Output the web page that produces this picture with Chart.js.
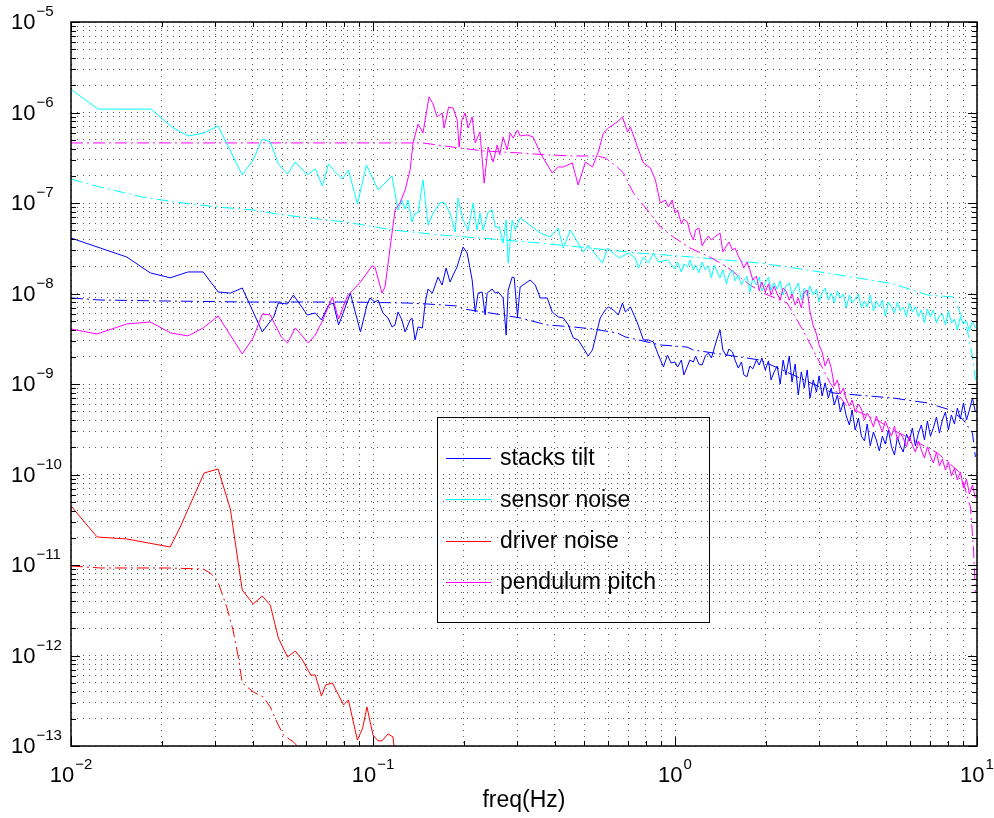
<!DOCTYPE html>
<html lang="en">
<head>
<meta charset="UTF-8">
<title>Tilt noise spectra</title>
<script src="https://cdn.jsdelivr.net/npm/chart.js"></script>
<style>
  body { margin: 0; background: #fff; }
  canvas { display: block; }
</style>
</head>
<body>
<canvas id="noiseChart" width="994" height="818"></canvas>
<script>
// values: frequency in Hz, amplitude per series

// shared frequency grid for the dense part above 1 Hz
const hiFreq = [1.00, 1.02, 1.05, 1.07, 1.10, 1.12, 1.15, 1.17, 1.20, 1.23,
  1.26, 1.29, 1.32, 1.35, 1.38, 1.41, 1.44, 1.48, 1.51, 1.55,
  1.58, 1.62, 1.66, 1.69, 1.73, 1.77, 1.81, 1.86, 1.90, 1.94,
  1.99, 2.04, 2.08, 2.13, 2.18, 2.23, 2.28, 2.33, 2.39, 2.44,
  2.50, 2.56, 2.62, 2.68, 2.74, 2.80, 2.87, 2.94, 3.00, 3.07,
  3.14, 3.22, 3.29, 3.37, 3.45, 3.53, 3.61, 3.69, 3.78, 3.86,
  3.95, 4.05, 4.14, 4.24, 4.33, 4.43, 4.54, 4.64, 4.75, 4.86,
  4.97, 5.09, 5.21, 5.33, 5.45, 5.57, 5.70, 5.84, 5.97, 6.11,
  6.25, 6.40, 6.54, 6.70, 6.85, 7.01, 7.17, 7.34, 7.51, 7.68,
  7.86, 8.04, 8.23, 8.42, 8.61, 8.81, 9.02, 9.23, 9.44, 9.66,
  9.88];

// stacks tilt (blue)
const tiltLowFreq = [0.01, 0.0125, 0.0153, 0.0183, 0.0213, 0.0244, 0.0274, 0.0307, 0.0337, 0.0369,
  0.043, 0.0469, 0.0486, 0.0521, 0.0545, 0.0606, 0.0644, 0.0675, 0.0712, 0.0739,
  0.0769, 0.0799, 0.0841, 0.0909, 0.0955, 0.0977, 0.1015, 0.1039, 0.1079, 0.1121,
  0.1156, 0.1183, 0.121, 0.1247, 0.1277, 0.1327, 0.1346, 0.1378, 0.141, 0.1457,
  0.149, 0.1522, 0.1573, 0.1642, 0.1694, 0.1746, 0.18, 0.1842, 0.1898, 0.1942,
  0.1988, 0.205, 0.213, 0.218, 0.2229, 0.2298, 0.2351, 0.2388, 0.2481, 0.2539,
  0.2597, 0.2698, 0.276, 0.2803, 0.289, 0.2935, 0.301, 0.307, 0.3316, 0.3446,
  0.358, 0.3776, 0.392, 0.4107, 0.4267, 0.4433, 0.4605, 0.478, 0.497, 0.516,
  0.533, 0.5655, 0.5875, 0.6016, 0.625, 0.649, 0.67, 0.685, 0.712, 0.751,
  0.786, 0.8165, 0.848, 0.881, 0.9157, 0.944, 0.97];
const tiltLowVal = [4.1e-8, 3.18e-8, 2.53e-8, 1.69e-8, 1.49e-8, 1.73e-8, 1.73e-8, 1.04e-8, 1.01e-8, 1.15e-8,
  3.76e-9, 5.51e-9, 7.85e-9, 7.66e-9, 9.63e-9, 5.79e-9, 6.09e-9, 5.1e-9, 7.46e-9, 7.85e-9,
  4.49e-9, 6.25e-9, 1.01e-8, 3.76e-9, 7.46e-9, 8.92e-9, 8.05e-9, 8.47e-9, 6.09e-9, 5.37e-9,
  4.27e-9, 4.49e-9, 6.25e-9, 5.1e-9, 3.76e-9, 5.1e-9, 5.37e-9, 3.07e-9, 4.27e-9, 4.16e-9,
  8.05e-9, 1.12e-8, 1.01e-8, 1.52e-8, 1.24e-8, 1.91e-8, 1.34e-8, 1.6e-8, 1.96e-8, 2.53e-8,
  3.26e-8, 2.8e-8, 1.41e-8, 6.25e-9, 1.01e-8, 1.04e-8, 5.79e-9, 1.01e-8, 1.12e-8, 1.01e-8,
  1.04e-8, 8.92e-9, 3.48e-9, 1.09e-8, 1.52e-8, 1.49e-8, 5.51e-9, 1.18e-8, 1.41e-8, 1.24e-8,
  8.92e-9, 8.92e-9, 6.25e-9, 5.51e-9, 5.37e-9, 4.49e-9, 3.23e-9, 3.07e-9, 2.5e-9, 2.04e-9,
  2.38e-9, 5.37e-9, 6.58e-9, 7.1e-9, 6.58e-9, 5.79e-9, 7.85e-9, 6.25e-9, 7.1e-9, 4.73e-9,
  3.07e-9, 3.07e-9, 2.92e-9, 2.09e-9, 1.54e-9, 2.09e-9, 1.71e-9];
const tiltHighVal = [1.75e-9, 1.54e-9, 1.84e-9, 1.26e-9, 1.58e-9, 1.84e-9, 1.75e-9, 2.04e-9, 1.66e-9, 1.62e-9,
  2.04e-9, 2.2e-9, 1.94e-9, 2.5e-9, 3.23e-9, 3.96e-9, 2.38e-9, 2.04e-9, 2.44e-9, 2.26e-9,
  1.84e-9, 1.5e-9, 1.75e-9, 1.26e-9, 1.2e-9, 1.58e-9, 1.47e-9, 1.84e-9, 1.62e-9, 1.94e-9,
  1.43e-9, 1.8e-9, 1.11e-9, 1.36e-9, 1.58e-9, 1.0e-9, 1.84e-9, 1.26e-9, 2.04e-9, 1.05e-9,
  1.66e-9, 7.56e-10, 1.36e-9, 9.03e-10, 1.43e-9, 7.0e-10, 1.11e-9, 8.15e-10, 1.23e-9, 7.37e-10,
  1.03e-9, 7.0e-10, 9.03e-10, 5.86e-10, 7.56e-10, 4.9e-10, 6.32e-10, 4.43e-10, 3.52e-10, 5.16e-10,
  3.1e-10, 4.21e-10, 2.66e-10, 2.35e-10, 3.61e-10, 2.07e-10, 2.95e-10, 2.41e-10, 1.82e-10, 2.66e-10,
  2.17e-10, 3.1e-10, 2.02e-10, 1.64e-10, 2.59e-10, 2.07e-10, 1.77e-10, 2.8e-10, 2.35e-10, 3.26e-10,
  2.07e-10, 2.87e-10, 3.52e-10, 2.41e-10, 3.9e-10, 2.66e-10, 3.26e-10, 4.32e-10, 2.87e-10, 4.0e-10,
  4.9e-10, 3.1e-10, 4.54e-10, 3.61e-10, 5.43e-10, 4.1e-10, 6.17e-10, 4.0e-10, 5.16e-10, 7.0e-10,
  4.9e-10];
const tiltModelFreq = [0.01, 0.0125, 0.0208, 0.0392, 0.0841, 0.1296, 0.151, 0.19, 0.1988, 0.2444,
  0.307, 0.3776, 0.4605, 0.5365, 0.644, 0.685, 0.894, 1.096, 1.147, 1.913,
  3.34, 5.28, 6.85, 8.165, 9.02, 9.66, 9.88];
const tiltModelVal = [8.92e-9, 8.47e-9, 8.26e-9, 8.05e-9, 8.05e-9, 7.85e-9, 7.66e-9, 7.28e-9, 6.75e-9, 6.09e-9,
  5.37e-9, 4.49e-9, 4.27e-9, 4.05e-9, 3.66e-9, 3.31e-9, 2.7e-9, 2.56e-9, 2.38e-9, 1.84e-9,
  7.95e-10, 7.0e-10, 6.17e-10, 5.16e-10, 4.0e-10, 2.87e-10, 1.56e-10];

// sensor noise (cyan)
const sensorLowFreq = [0.01, 0.0123, 0.0153, 0.0184, 0.0216, 0.0244, 0.0274, 0.0307, 0.0369, 0.0401,
  0.043, 0.0457, 0.0486, 0.0521, 0.0553, 0.0606, 0.0644, 0.068, 0.0712, 0.0739,
  0.0792, 0.0829, 0.0888, 0.0951, 0.104, 0.1156, 0.121, 0.1247, 0.1277, 0.1306,
  0.1346, 0.1378, 0.141, 0.1464, 0.1522, 0.1581, 0.1667, 0.172, 0.18, 0.187,
  0.1913, 0.1988, 0.2065, 0.2146, 0.221, 0.226, 0.2316, 0.2406, 0.248, 0.254,
  0.262, 0.2698, 0.276, 0.2803, 0.289, 0.296, 0.307, 0.324, 0.358, 0.386,
  0.41, 0.4267, 0.4505, 0.478, 0.497, 0.516, 0.575, 0.599, 0.635, 0.654,
  0.701, 0.739, 0.7565, 0.786, 0.8165, 0.848, 0.881, 0.944];
const sensorLowVal = [1.8e-6, 1.09e-6, 1.09e-6, 1.09e-6, 6.9e-7, 5.5e-7, 5.9e-7, 7.1e-7, 2.04e-7, 2.99e-7,
  5.1e-7, 4.72e-7, 2.7e-7, 2.09e-7, 2.84e-7, 2.04e-7, 2.38e-7, 1.54e-7, 2.7e-7, 2.32e-7,
  1.84e-7, 2.32e-7, 9.75e-8, 2.63e-7, 1.39e-7, 1.99e-7, 8.37e-8, 1.08e-7, 8.58e-8, 1.08e-7,
  6.16e-8, 7.75e-8, 7.75e-8, 1.8e-7, 5.71e-8, 7.75e-8, 1.0e-7, 1.02e-7, 7.75e-8, 4.78e-8,
  1.13e-7, 6.48e-8, 5.03e-8, 1.0e-7, 5.03e-8, 7.75e-8, 5.03e-8, 7.95e-8, 8.37e-8, 5.43e-8,
  5.43e-8, 3.61e-8, 6.48e-8, 2.17e-8, 6.48e-8, 5.03e-8, 6.83e-8, 6.01e-8, 4.66e-8, 4.21e-8,
  5.29e-8, 3.18e-8, 5.03e-8, 3.61e-8, 2.87e-8, 3.43e-8, 2.17e-8, 3.18e-8, 2.66e-8, 2.47e-8,
  2.8e-8, 2.47e-8, 1.91e-8, 2.53e-8, 2.17e-8, 2.8e-8, 2.23e-8, 2.35e-8];
const sensorHighVal = [1.87e-8, 2.23e-8, 1.73e-8, 2.12e-8, 1.96e-8, 2.35e-8, 1.82e-8, 2.07e-8, 1.69e-8, 2.23e-8,
  1.82e-8, 2.02e-8, 1.49e-8, 2.07e-8, 1.73e-8, 1.49e-8, 1.82e-8, 1.28e-8, 1.64e-8, 1.82e-8,
  1.38e-8, 1.6e-8, 1.24e-8, 1.38e-8, 1.56e-8, 1.04e-8, 1.49e-8, 1.24e-8, 1.52e-8, 1.07e-8,
  1.31e-8, 1.52e-8, 1.09e-8, 1.31e-8, 1.12e-8, 1.38e-8, 9.63e-9, 1.21e-8, 1.31e-8, 9.63e-9,
  1.12e-8, 1.31e-8, 8.47e-9, 1.15e-8, 9.38e-9, 1.21e-8, 9.63e-9, 1.12e-8, 8.05e-9, 1.01e-8,
  1.15e-8, 8.47e-9, 1.01e-8, 7.85e-9, 1.07e-8, 8.92e-9, 9.87e-9, 6.92e-9, 9.63e-9, 7.85e-9,
  8.69e-9, 9.87e-9, 6.92e-9, 8.26e-9, 7.1e-9, 9.63e-9, 6.41e-9, 8.26e-9, 7.1e-9, 8.47e-9,
  5.65e-9, 8.05e-9, 7.1e-9, 6.09e-9, 8.05e-9, 6.41e-9, 7.1e-9, 5.51e-9, 7.85e-9, 6.25e-9,
  7.1e-9, 5.51e-9, 6.58e-9, 4.73e-9, 6.75e-9, 5.51e-9, 6.58e-9, 4.73e-9, 5.65e-9, 5.94e-9,
  4.49e-9, 6.41e-9, 4.73e-9, 5.23e-9, 3.96e-9, 5.51e-9, 4.61e-9, 4.97e-9, 3.86e-9, 4.97e-9,
  4.16e-9];
const sensorModelFreq = [0.01, 0.0125, 0.0173, 0.0224, 0.0305, 0.0401, 0.0505, 0.081, 0.1165, 0.1667,
  0.226, 0.358, 0.7565, 1.121, 1.913, 3.17, 5.28, 6.85, 8.36, 9.29,
  9.66, 9.88];
const sensorModelVal = [1.84e-7, 1.5e-7, 1.16e-7, 1.02e-7, 9.03e-8, 8.37e-8, 7.37e-8, 6.17e-8, 5.03e-8, 4.43e-8,
  4.1e-8, 3.61e-8, 2.8e-8, 2.54e-8, 2.17e-8, 1.69e-8, 1.28e-8, 9.63e-9, 9.15e-9, 3.96e-9,
  1.99e-9, 1.11e-9];

// driver noise (red)
const driverFreq = [0.01, 0.0122, 0.0153, 0.0213, 0.023, 0.0276, 0.0307, 0.0337, 0.0369, 0.0401,
  0.043, 0.0457, 0.0486, 0.0521, 0.0553, 0.0584, 0.0622, 0.0644, 0.0675, 0.0697,
  0.0734, 0.0799, 0.0829, 0.0888, 0.0924, 0.0955, 0.1, 0.104, 0.1071, 0.1121,
  0.1165, 0.1192];
const driverVal = [4.49e-11, 2.04e-11, 1.94e-11, 1.58e-11, 2.63e-11, 1.04e-10, 1.15e-10, 4.16e-11, 5.29e-12, 3.71e-12,
  4.54e-12, 3.61e-12, 1.56e-12, 9.63e-13, 1.12e-12, 8.92e-13, 6.09e-13, 6.09e-13, 3.57e-13, 4.73e-13,
  4.97e-13, 2.84e-13, 3.23e-13, 1.16e-13, 1.58e-13, 2.7e-13, 1.32e-13, 1.14e-13, 1.14e-13, 1.36e-13,
  1.26e-13, 6e-14];
const driverModelFreq = [0.01, 0.0125, 0.0208, 0.0274, 0.0289, 0.0305, 0.0328, 0.0344, 0.0358, 0.0369,
  0.0401, 0.0433, 0.0457, 0.0482, 0.0505, 0.0545, 0.0566, 0.0597];
const driverModelVal = [9.75e-12, 9.27e-12, 9.27e-12, 9.03e-12, 8.15e-12, 6.83e-12, 3.43e-12, 1.91e-12, 9.63e-13, 4.97e-13,
  3.96e-13, 3.48e-13, 2.7e-13, 1.8e-13, 1.32e-13, 1.11e-13, 9.7e-14, 7e-14];

// pendulum pitch (magenta)
const pendLowFreq = [0.01, 0.0122, 0.0153, 0.0183, 0.0214, 0.0244, 0.0274, 0.0307, 0.0369, 0.0401,
  0.043, 0.0457, 0.0497, 0.0521, 0.0553, 0.0611, 0.0644, 0.068, 0.0734, 0.0769,
  0.0823, 0.0909, 0.0993, 0.1015, 0.1071, 0.1096, 0.1138, 0.1183, 0.1228, 0.1277,
  0.1327, 0.1357, 0.141, 0.1464, 0.1533, 0.1581, 0.163, 0.1694, 0.172, 0.178,
  0.1842, 0.19, 0.1928, 0.197, 0.2019, 0.2065, 0.213, 0.218, 0.226, 0.2334,
  0.2406, 0.25, 0.2578, 0.2628, 0.2698, 0.2782, 0.2846, 0.2912, 0.301, 0.307,
  0.324, 0.339, 0.358, 0.392, 0.4107, 0.4267, 0.457, 0.478, 0.505, 0.533,
  0.557, 0.579, 0.602, 0.644, 0.67, 0.697, 0.712, 0.751, 0.786, 0.829,
  0.861, 0.894, 0.929, 0.951, 0.979];
const pendLowVal = [4.05e-9, 3.57e-9, 4.61e-9, 4.85e-9, 3.66e-9, 3.4e-9, 4.16e-9, 5.65e-9, 2.15e-9, 3.23e-9,
  5.94e-9, 5.79e-9, 3.31e-9, 2.84e-9, 4.16e-9, 2.84e-9, 3.48e-9, 4.97e-9, 9.15e-9, 5.23e-9,
  9.38e-9, 1.34e-8, 2.02e-8, 1.96e-8, 1.01e-8, 1.18e-8, 3.1e-8, 8.37e-8, 1.0e-7, 1.39e-7,
  2.32e-7, 4.61e-7, 7.46e-7, 5.94e-7, 1.49e-6, 1.24e-6, 8.92e-7, 9.87e-7, 6.74e-7, 1.15e-6,
  1.12e-6, 8.26e-7, 4.16e-7, 8.26e-7, 9.87e-7, 6.74e-7, 8.92e-7, 4.61e-7, 6.09e-7, 1.66e-7,
  4.16e-7, 2.84e-7, 4.38e-7, 3.4e-7, 5.37e-7, 3.86e-7, 5.94e-7, 5.23e-7, 6.41e-7, 5.51e-7,
  5.65e-7, 5.37e-7, 3.57e-7, 2.15e-7, 2.5e-7, 2.5e-7, 2.77e-7, 1.58e-7, 2.84e-7, 2.5e-7,
  3.66e-7, 5.94e-7, 6.74e-7, 7.85e-7, 8.92e-7, 6.09e-7, 6.92e-7, 4.16e-7, 2.77e-7, 2.44e-7,
  1.8e-7, 1.0e-7, 1.08e-7, 9.03e-8, 1.08e-7];
const pendHighVal = [7.75e-8, 8.37e-8, 5.86e-8, 6.65e-8, 6.17e-8, 4.78e-8, 3.9e-8, 5.03e-8, 5.29e-8, 3.35e-8,
  3.9e-8, 4.32e-8, 3.9e-8, 4.21e-8, 4.43e-8, 4.66e-8, 2.88e-8, 3.35e-8, 3.71e-8, 3.03e-8,
  3.18e-8, 2.6e-8, 2.23e-8, 1.91e-8, 2.23e-8, 1.82e-8, 1.41e-8, 1.56e-8, 1.09e-8, 1.34e-8,
  1.04e-8, 1.28e-8, 9.63e-9, 1.21e-8, 9.87e-9, 8.47e-9, 1.15e-8, 1.07e-8, 8.47e-9, 9.87e-9,
  7.46e-9, 8.92e-9, 6.92e-9, 1.04e-8, 1.09e-8, 6.25e-9, 4.38e-9, 3.57e-9, 2.7e-9, 2.26e-9,
  1.58e-9, 1.94e-9, 1.5e-9, 9.5e-10, 1.11e-9, 7.75e-10, 9.03e-10, 6.83e-10, 5.71e-10, 6.65e-10,
  4.9e-10, 6.01e-10, 5.29e-10, 4.0e-10, 4.78e-10, 4.21e-10, 3.35e-10, 4.43e-10, 3.61e-10, 2.95e-10,
  3.9e-10, 3.18e-10, 2.66e-10, 3.43e-10, 2.41e-10, 2.87e-10, 2.53e-10, 2.02e-10, 2.66e-10, 2.12e-10,
  1.77e-10, 2.35e-10, 1.87e-10, 1.52e-10, 2.02e-10, 1.6e-10, 1.34e-10, 1.77e-10, 1.24e-10, 1.48e-10,
  1.12e-10, 1.38e-10, 9.63e-11, 1.18e-10, 8.7e-11, 1.065e-10, 7.09e-11, 8.92e-11, 6.09e-11, 7.66e-11,
  5.5e-11];
const pendModelFreq = [0.01, 0.1228, 0.1457, 0.1942, 0.2316, 0.307, 0.3776, 0.4605, 0.553, 0.5875,
  0.644, 0.675, 0.728, 0.81, 0.894, 0.988, 1.121, 1.306, 1.488, 1.773,
  1.96, 2.351, 2.65, 2.95, 3.266, 3.72, 4.67, 5.28, 6.14, 7.39,
  8.81, 9.51, 9.73, 9.88];
const pendModelVal = [4.61e-7, 4.61e-7, 4.61e-7, 4.05e-7, 3.76e-7, 3.57e-7, 3.4e-7, 3.31e-7, 3.31e-7, 3.15e-7,
  2.5e-7, 2.15e-7, 1.29e-7, 8.37e-8, 5.43e-8, 4.21e-8, 3.18e-8, 2.53e-8, 1.96e-8, 1.24e-8,
  1.01e-8, 7.85e-9, 3.96e-9, 1.99e-9, 1.02e-9, 5.57e-10, 4.0e-10, 3.1e-10, 2.41e-10, 1.73e-10,
  1.04e-10, 4.38e-11, 1.58e-11, 4.9e-12];

// axes
const xExponents = [-2, -1, 0, 1];
const yExponents = [-13, -12, -11, -10, -9, -8, -7, -6, -5];
const minorSteps = [1, 2, 3, 4, 5, 6, 7, 8, 9];
const legendNames = ['stacks tilt', 'sensor noise', 'driver noise', 'pendulum pitch'];
const legendColors = ['#0000ff', '#00ffff', '#ff0000', '#ff00ff'];

const FONT = "'Liberation Sans', Arial, Helvetica, sans-serif";

function pairs(fs, vs) {
  return fs.map((f, i) => ({ x: f, y: vs[i] }));
}
function solid(label, color, fs, vs) {
  return { label, data: pairs(fs, vs), borderColor: color, borderWidth: 1, pointRadius: 0, tension: 0, fill: false };
}
function model(label, color, fs, vs) {
  return { label, data: pairs(fs, vs), borderColor: color, borderWidth: 1, borderDash: [12, 4, 2, 4], pointRadius: 0, tension: 0, fill: false };
}
function logTicks(exps) {
  const out = [];
  exps.forEach((e, i) => {
    minorSteps.forEach(m => {
      if (i === exps.length - 1 && m > 1) return;
      out.push({ value: m * Math.pow(10, e), major: m === 1 });
    });
  });
  return out;
}
function expText(e) {
  return e < 0 ? '\u2212' + Math.abs(e) : String(e);
}

// box, inward ticks, power-of-ten labels and the legend, drawn like the original
const frame = {
  id: 'frame',
  afterDraw(chart) {
    const { ctx, chartArea: a, scales: { x, y } } = chart;
    ctx.save();
    ctx.strokeStyle = '#000';
    ctx.lineWidth = 1;
    ctx.beginPath();
    x.ticks.forEach(t => {
      const px = Math.round(x.getPixelForValue(t.value)) + 0.5;
      const len = t.major ? 9 : 5;
      ctx.moveTo(px, a.bottom); ctx.lineTo(px, a.bottom - len);
      ctx.moveTo(px, a.top); ctx.lineTo(px, a.top + len);
    });
    y.ticks.forEach(t => {
      const py = Math.round(y.getPixelForValue(t.value)) + 0.5;
      const len = t.major ? 9 : 5;
      ctx.moveTo(a.left, py); ctx.lineTo(a.left + len, py);
      ctx.moveTo(a.right, py); ctx.lineTo(a.right - len, py);
    });
    ctx.stroke();
    ctx.lineWidth = 1.5;
    ctx.strokeRect(a.left, a.top, a.right - a.left, a.bottom - a.top);

    // tick labels
    ctx.fillStyle = '#000';
    ctx.textBaseline = 'middle';
    ctx.textAlign = 'left';
    const base = '22px ' + FONT, sup = '15px ' + FONT;
    yExponents.forEach(e => {
      const py = y.getPixelForValue(Math.pow(10, e));
      ctx.font = base;
      ctx.fillText('10', 11, py + 1);
      const w = ctx.measureText('10').width;
      ctx.font = sup;
      ctx.fillText(expText(e), 11 + w + 1, py - 10);
    });
    xExponents.forEach(e => {
      const px = x.getPixelForValue(Math.pow(10, e));
      ctx.font = base;
      const w1 = ctx.measureText('10').width;
      ctx.font = sup;
      const w2 = ctx.measureText(expText(e)).width;
      const start = px - (w1 + w2 + 1) / 2;
      ctx.font = base;
      ctx.fillText('10', start, 776);
      ctx.font = sup;
      ctx.fillText(expText(e), start + w1 + 1, 765);
    });

    // legend
    ctx.lineWidth = 1;
    ctx.strokeStyle = '#000';
    ctx.strokeRect(437.5, 417.5, 272, 205);
    ctx.font = '23px ' + FONT;
    legendNames.forEach((name, i) => {
      const ly = 458 + i * 41.3;
      ctx.strokeStyle = legendColors[i];
      ctx.beginPath();
      ctx.moveTo(446, Math.round(ly) + 0.5);
      ctx.lineTo(491, Math.round(ly) + 0.5);
      ctx.stroke();
      ctx.fillStyle = '#000';
      ctx.fillText(name, 500, ly + 1);
    });
    ctx.restore();
  }
};

const ctx = document.getElementById('noiseChart').getContext('2d');
new Chart(ctx, {
  type: 'line',
  data: {
    datasets: [
      solid('pendulum pitch', '#ff00ff', pendLowFreq.concat(hiFreq), pendLowVal.concat(pendHighVal)),
      solid('stacks tilt', '#0000ff', tiltLowFreq.concat(hiFreq), tiltLowVal.concat(tiltHighVal)),
      solid('sensor noise', '#00ffff', sensorLowFreq.concat(hiFreq), sensorLowVal.concat(sensorHighVal)),
      solid('driver noise', '#ff0000', driverFreq, driverVal),
      model('pendulum pitch model', '#ff00ff', pendModelFreq, pendModelVal),
      model('stacks tilt model', '#0000ff', tiltModelFreq, tiltModelVal),
      model('sensor noise model', '#00ffff', sensorModelFreq, sensorModelVal),
      model('driver noise model', '#ff0000', driverModelFreq, driverModelVal)
    ]
  },
  options: {
    responsive: false,
    animation: false,
    events: [],
    layout: { padding: { top: 22, right: 17, bottom: 0, left: 0 } },
    plugins: { legend: { display: false }, tooltip: { enabled: false } },
    scales: {
      x: {
        type: 'logarithmic',
        min: 0.01,
        max: 10,
        afterBuildTicks: s => { s.ticks = logTicks(xExponents); },
        afterFit: s => { s.height = 72; },
        ticks: { display: false },
        grid: { color: 'rgba(0,0,0,0.65)', drawTicks: false },
        border: { display: false, dash: [1, 5] },
        title: { display: true, text: 'freq(Hz)', color: '#000', font: { family: FONT, size: 23 }, padding: { top: 0, bottom: 4 } }
      },
      y: {
        type: 'logarithmic',
        min: 1e-13,
        max: 1e-5,
        afterBuildTicks: s => { s.ticks = logTicks(yExponents); },
        afterFit: s => { s.width = 71; },
        ticks: { display: false },
        grid: { color: 'rgba(0,0,0,0.65)', drawTicks: false },
        border: { display: false, dash: [1, 5] }
      }
    }
  },
  plugins: [frame]
});
</script>
</body>
</html>
